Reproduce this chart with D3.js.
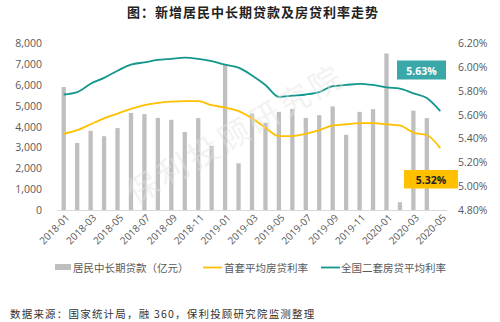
<!DOCTYPE html>
<html><head><meta charset="utf-8">
<script src="https://cdn.jsdelivr.net/npm/d3@7/dist/d3.min.js"></script>
<style>
body{margin:0;background:#fff;}
svg{display:block;}
</style></head>
<body>
<svg id="c" width="500" height="322"></svg>
<script>
const months = ["2018-01","2018-02","2018-03","2018-04","2018-05","2018-06","2018-07","2018-08","2018-09","2018-10","2018-11","2018-12",
"2019-01","2019-02","2019-03","2019-04","2019-05","2019-06","2019-07","2019-08","2019-09","2019-10","2019-11","2019-12",
"2020-01","2020-02","2020-03","2020-04","2020-05"];
const loans = [5900,3220,3800,3540,3930,4660,4600,4420,4330,3740,4410,3080,
7000,2240,4630,4180,4710,4850,4420,4550,4970,3610,4710,4840,
7510,370,4770,4410,null];
const firstRate = [5.44,5.47,5.52,5.57,5.61,5.65,5.68,5.70,5.71,5.715,5.715,5.68,
5.66,5.63,5.57,5.49,5.42,5.42,5.44,5.47,5.51,5.52,5.53,5.53,
5.52,5.51,5.45,5.43,5.32];
const secondRate = [5.77,5.79,5.86,5.91,5.97,6.02,6.04,6.06,6.07,6.08,6.07,6.05,
6.02,5.995,5.93,5.85,5.75,5.76,5.77,5.79,5.84,5.85,5.86,5.85,
5.83,5.82,5.78,5.74,5.63];
const leftTicks = [0,1000,2000,3000,4000,5000,6000,7000,8000];
const rightTicks = [4.8,5.0,5.2,5.4,5.6,5.8,6.0,6.2];
const legendLabels = ["居民中长期贷款（亿元）","首套平均房贷利率","全国二套房贷平均利率"];
const title = "图：新增居民中长期贷款及房贷利率走势";
const source = "数据来源：国家统计局，融 360，保利投顾研究院监测整理";

const svg = d3.select("#c");
const fontSans = "'Noto Sans CJK SC','Noto Sans',sans-serif";
const L = 57, R = 447, T = 43.3, B = 210;
const x = d3.scaleBand().domain(months).range([L, R]).paddingInner(0.68).paddingOuter(0.34);
const yL = d3.scaleLinear().domain([0, 8000]).range([B, T]);
const yR = d3.scaleLinear().domain([4.8, 6.2]).range([B, T]);
const cx = d => x(d) + x.bandwidth() / 2;
const pct = d => d.toFixed(2) + "%";

const gray = "#bfbfbf", yellow = "#ffc000", teal = "#13968c", txt = "#595959";

// title
svg.append("text").attr("x", 253).attr("y", 17).attr("text-anchor", "middle")
  .attr("font-family", "'Noto Sans CJK SC',serif").attr("font-weight", "bold")
  .attr("font-size", 13).attr("letter-spacing", 1).attr("fill", "#222").text(title);

// bars
svg.append("g").selectAll("rect").data(months.map((m, i) => ({m, v: loans[i]})).filter(d => d.v != null))
  .enter().append("rect")
  .attr("x", d => x(d.m)).attr("width", x.bandwidth())
  .attr("y", d => yL(d.v)).attr("height", d => B - yL(d.v)).attr("fill", gray);

// left axis
const gl = svg.append("g").attr("transform", `translate(${L - 15},0)`)
  .call(d3.axisLeft(yL).tickValues(leftTicks).tickFormat(d3.format(",")).tickSize(0));
gl.select(".domain").remove();
gl.selectAll("text").attr("font-family", "'Open Sans',sans-serif").attr("font-size", 10.5).attr("fill", txt).attr("x", 0);

// right axis
const gr = svg.append("g").attr("transform", `translate(${R + 11},0)`)
  .call(d3.axisRight(yR).tickValues(rightTicks).tickFormat(pct).tickSize(0));
gr.select(".domain").remove();
gr.selectAll("text").attr("font-family", "'Open Sans',sans-serif").attr("font-size", 10.5).attr("fill", txt).attr("x", 0);

// bottom axis
const gb = svg.append("g").attr("transform", `translate(0,${B})`)
  .call(d3.axisBottom(x).tickValues(months.filter((m, i) => i % 2 === 0)).tickSize(0));
gb.select(".domain").attr("stroke", "#d9d9d9");
gb.selectAll("text").attr("font-family", "'Open Sans',sans-serif").attr("font-size", 10).attr("fill", txt)
  .attr("text-anchor", "end").attr("transform", "translate(4,6) rotate(-45)").attr("dy", "0.35em").attr("y", 0).attr("x", 0);

// lines
const line = d3.line().x((d, i) => cx(months[i])).y(d => yR(d)).curve(d3.curveMonotoneX);
svg.append("path").datum(firstRate).attr("d", line).attr("fill", "none").attr("stroke", yellow).attr("stroke-width", 1.8);
svg.append("path").datum(secondRate).attr("d", line).attr("fill", "none").attr("stroke", teal).attr("stroke-width", 1.8);

// watermark
svg.append("text").attr("transform", "translate(135,205) rotate(-30)")
  .attr("font-family", fontSans).attr("font-size", 31).attr("letter-spacing", 4)
  .attr("fill", "#e4e4e4").attr("opacity", 0.45)
  .text("保利投顾研究院");

// end labels
const last = months.length - 1;
const lab1 = svg.append("g");
lab1.append("rect").attr("x", 397).attr("y", 60.5).attr("width", 49).attr("height", 19).attr("fill", "#3aa8a8");
lab1.append("text").attr("x", 421.5).attr("y", 74.5).attr("text-anchor", "middle").attr("font-family", "'Open Sans',sans-serif")
  .attr("font-weight", "bold").attr("font-size", 10.5).attr("fill", "#fff").text(pct(secondRate[last]));
lab1.append("rect").attr("x", 404).attr("y", 170).attr("width", 54).attr("height", 18.5).attr("fill", "#ffc000");
lab1.append("text").attr("x", 431).attr("y", 183.5).attr("text-anchor", "middle").attr("font-family", "'Open Sans',sans-serif")
  .attr("font-weight", "bold").attr("font-size", 10.5).attr("fill", "#222").text(pct(firstRate[last]));

// legend
const lg = svg.append("g").attr("font-family", fontSans).attr("font-size", 10.5).attr("fill", txt);
lg.append("rect").attr("x", 55).attr("y", 264).attr("width", 16).attr("height", 6).attr("fill", gray);
lg.append("text").attr("x", 73).attr("y", 271.5).text(legendLabels[0]);
lg.append("line").attr("x1", 203).attr("x2", 222).attr("y1", 267.5).attr("y2", 267.5).attr("stroke", yellow).attr("stroke-width", 1.8);
lg.append("text").attr("x", 224).attr("y", 271.5).text(legendLabels[1]);
lg.append("line").attr("x1", 321).attr("x2", 340).attr("y1", 267.5).attr("y2", 267.5).attr("stroke", teal).attr("stroke-width", 1.8);
lg.append("text").attr("x", 341).attr("y", 271.5).text(legendLabels[2]);

// source
svg.append("text").attr("x", 10).attr("y", 318).attr("font-family", "'Noto Sans CJK SC',serif")
  .attr("font-size", 10.5).attr("letter-spacing", 1.2).attr("fill", "#333").text(source);
</script>
</body></html>
